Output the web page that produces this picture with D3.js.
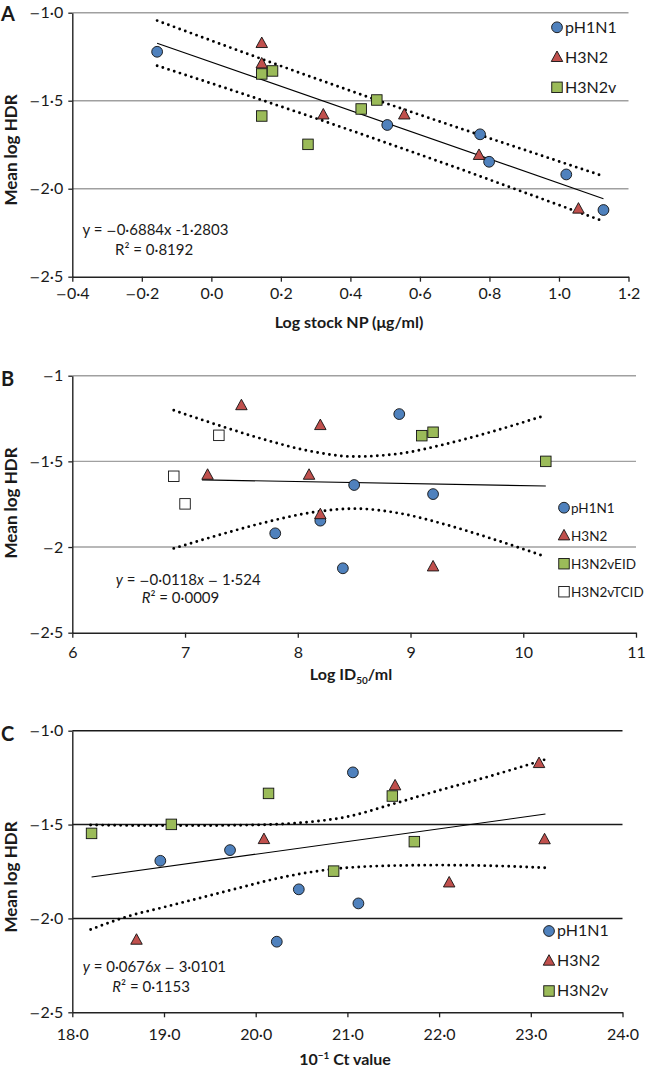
<!DOCTYPE html>
<html><head><meta charset="utf-8">
<script src="https://cdn.jsdelivr.net/npm/d3@7"></script>
<style>
html,body{margin:0;padding:0;background:#fff;}
svg{display:block;}
text{font-family:Lato,'Open Sans',sans-serif;fill:#1a1a1a;}
</style></head><body>
<script>
// ---------- Panel A data ----------
const aPH1N1 = [[-0.156,-1.222],[0.506,-1.638],[0.773,-1.691],[0.799,-1.847],[1.021,-1.919],[1.128,-2.121]];
const aH3N2  = [[0.145,-1.174],[0.145,-1.29],[0.322,-1.58],[0.555,-1.58],[0.77,-1.81],[1.056,-2.115]];
const aH3N2v = [[0.145,-1.348],[0.176,-1.331],[0.145,-1.587],[0.278,-1.748],[0.431,-1.547],[0.476,-1.496]];
const aFit   = [[-0.156,-1.173],[1.128,-2.057]];
const aUpper = [[-0.156,-1.045],[0.1,-1.231],[0.3,-1.374],[0.5,-1.513],[0.7,-1.647],[0.9,-1.779],[1.128,-1.929]];
const aLower = [[-0.156,-1.301],[0.1,-1.467],[0.3,-1.600],[0.5,-1.737],[0.7,-1.877],[0.9,-2.021],[1.128,-2.185]];
const aXTicks = [-0.4,-0.2,0,0.2,0.4,0.6,0.8,1.0,1.2];
const aXLabels = ["−0·4","−0·2","0·0","0·2","0·4","0·6","0·8","1·0","1·2"];
const aYTicks = [-1,-1.5,-2,-2.5];
const aYLabels = ["−1·0","−1·5","−2·0","−2·5"];

// ---------- Panel B data ----------
const bPH1N1 = [[8.9,-1.224],[8.5,-1.638],[9.2,-1.691],[8.2,-1.846],[7.8,-1.92],[8.4,-2.124]];
const bH3N2  = [[7.5,-1.174],[8.2,-1.29],[7.2,-1.58],[8.1,-1.58],[8.2,-1.81],[9.2,-2.115]];
const bEID   = [[9.1,-1.35],[9.2,-1.33],[10.2,-1.5]];
const bTCID  = [[7.3,-1.348],[6.9,-1.587],[7.0,-1.748]];
const bFit   = [[7.15,-1.608],[10.2,-1.644]];
const bUpper = [[6.9,-1.202],[7.3,-1.290],[7.7,-1.372],[8.1,-1.439],[8.5,-1.472],[8.9,-1.455],[9.3,-1.401],[9.7,-1.331],[10.17,-1.237]];
const bLower = [[6.9,-2.008],[7.3,-1.930],[7.7,-1.858],[8.1,-1.801],[8.5,-1.776],[8.9,-1.803],[9.3,-1.867],[9.7,-1.947],[10.17,-2.050]];
const bXTicks = [6,7,8,9,10,11];
const bXLabels = ["6","7","8","9","10","11"];
const bYTicks = [-1,-1.5,-2,-2.5];
const bYLabels = ["−1","−1·5","−2","−2·5"];

// ---------- Panel C data ----------
const cPH1N1 = [[21.06,-1.222],[19.72,-1.636],[18.96,-1.693],[20.47,-1.845],[21.12,-1.92],[20.23,-2.124]];
const cH3N2  = [[23.09,-1.174],[21.52,-1.293],[20.09,-1.579],[23.15,-1.58],[22.11,-1.81],[18.70,-2.115]];
const cH3N2v = [[20.14,-1.334],[21.49,-1.348],[19.08,-1.499],[18.21,-1.547],[21.73,-1.591],[20.85,-1.748]];
const cFit   = [[18.21,-1.779],[23.16,-1.444]];
const cUpper = [[18.2,-1.502],[18.8,-1.505],[19.4,-1.505],[20.0,-1.502],[20.5,-1.49],[21.0,-1.458],[21.5,-1.39],[22.0,-1.318],[22.5,-1.25],[23.16,-1.153]];
const cLower = [[18.2,-2.059],[18.6,-1.99],[19.0,-1.94],[19.4,-1.89],[19.8,-1.84],[20.3,-1.78],[20.85,-1.737],[21.4,-1.72],[22.0,-1.716],[22.6,-1.72],[23.16,-1.73]];
const cXTicks = [18,19,20,21,22,23,24];
const cXLabels = ["18·0","19·0","20·0","21·0","22·0","23·0","24·0"];
const cYTicks = [-1,-1.5,-2,-2.5];
const cYLabels = ["−1·0","−1·5","−2·0","−2·5"];

const COL = {circle:"#4f81bd", tri:"#c0504d", sq:"#9bbb59", white:"#ffffff"};

const svg = d3.select("body").append("svg").attr("width",647).attr("height",1069);

// write a string into a text element, drawing each minus sign with a long dash glyph
function dashText(t, str, italicChars){
  t.text(null);
  const parts = str.split(/(−|[a-zA-Z])/).filter(p=>p!=="");
  parts.forEach(p=>{
    const ts = t.append("tspan").text(p);
    if(p==="−") ts.attr("font-family","'DejaVu Sans',sans-serif").attr("font-size","0.82em");
    else if(italicChars && italicChars.includes(p)) ts.attr("font-style","italic");
  });
}

function marker(g, shape, fill, cx, cy){
  if(shape==="circle"){
    g.append("circle").attr("cx",cx).attr("cy",cy).attr("r",5.4)
      .attr("fill",fill).attr("stroke","#111").attr("stroke-width",0.9);
  } else if(shape==="tri"){
    const w=11.5,h=10.5;
    g.append("path").attr("d",`M${cx},${cy-h*0.6}L${cx+w/2},${cy+h*0.4}L${cx-w/2},${cy+h*0.4}Z`)
      .attr("fill",fill).attr("stroke","#111").attr("stroke-width",0.9).attr("stroke-linejoin","miter");
  } else {
    const s=10.5;
    g.append("rect").attr("x",cx-s/2).attr("y",cy-s/2).attr("width",s).attr("height",s)
      .attr("fill",fill).attr("stroke","#111").attr("stroke-width",0.9);
  }
}

function panel(cfg){
  const g = svg.append("g");
  const x = d3.scaleLinear().domain(cfg.xDomain).range([cfg.left,cfg.right]);
  const y = d3.scaleLinear().domain([-2.5,-1]).range([cfg.bottom,cfg.top]);

  // gridlines
  g.selectAll(".grid").data(cfg.yTicks.filter(v=>v>-2.5)).enter().append("line")
    .attr("x1",cfg.left).attr("x2",cfg.right).attr("y1",d=>y(d)).attr("y2",d=>y(d))
    .attr("stroke",cfg.gridColor).attr("stroke-width",1.4);

  // axes
  const yAxis = d3.axisLeft(y).tickValues(cfg.yTicks).tickSize(4).tickSizeOuter(0).tickPadding(5)
    .tickFormat((d,i)=>cfg.yLabels[i]);
  const ya = g.append("g").attr("transform",`translate(${cfg.left},0)`).call(yAxis);
  const xAxis = d3.axisBottom(x).tickValues(cfg.xTicks).tickSize(5).tickSizeOuter(0).tickPadding(cfg.xPad)
    .tickFormat((d,i)=>cfg.xLabels[i]);
  const xa = g.append("g").attr("transform",`translate(0,${cfg.bottom})`).call(xAxis);
  [ya,xa].forEach(a=>{
    a.select(".domain").attr("stroke","#222").attr("stroke-width",1.4);
    a.selectAll(".tick line").attr("stroke","#222").attr("stroke-width",1.3);
    a.selectAll(".tick text").attr("font-family","Lato,'Open Sans',sans-serif").attr("font-size",16).attr("fill","#1a1a1a")
      .each(function(){ const s=d3.select(this); dashText(s, s.text()); });
  });

  // bands & fit
  const line = d3.line().x(d=>x(d[0])).y(d=>y(d[1])).curve(d3.curveMonotoneX);
  [cfg.upper,cfg.lower].forEach(b=>{
    g.append("path").attr("d",line(b)).attr("fill","none").attr("stroke","#000")
      .attr("stroke-width",2.9).attr("stroke-dasharray","0 6").attr("stroke-linecap","round");
  });
  g.append("path").attr("d",d3.line().x(d=>x(d[0])).y(d=>y(d[1]))(cfg.fit))
    .attr("fill","none").attr("stroke","#000").attr("stroke-width",1.1);

  // markers
  cfg.series.forEach(s=>{
    s.data.forEach(d=>marker(g,s.shape,s.fill,x(d[0]),y(d[1])));
  });

  // legend
  cfg.series.forEach((s,i)=>{
    const ly = cfg.legend.y0 + i*cfg.legend.dy;
    marker(g,s.shape,s.fill,cfg.legend.x,ly);
    g.append("text").attr("x",cfg.legend.x+cfg.legend.gap).attr("y",ly+5.2)
      .attr("font-size",cfg.legend.fs).text(s.name);
  });

  // equation
  cfg.eq.forEach(e=>{
    const t = g.append("text").attr("x",e.x).attr("y",e.y).attr("font-size",15);
    dashText(t, e.text, e.italic);
    if(e.sup){ // R² handled by the text itself
    }
  });

  // titles
  g.append("text").attr("transform",`translate(${cfg.yTitleX},${cfg.yTitleY}) rotate(-90)`)
    .attr("text-anchor","middle").attr("font-weight","bold").attr("font-size",17).text("Mean log HDR");
  const xt = g.append("text").attr("x",cfg.xTitleX).attr("y",cfg.xTitleY).attr("text-anchor","middle")
    .attr("font-weight","bold").attr("font-size",16);
  cfg.xTitle(xt);
  g.append("text").attr("x",1).attr("y",cfg.letterY).attr("font-family","'Liberation Sans',Arial,sans-serif")
    .attr("font-weight","bold").attr("font-size",20).text(cfg.letter);
}

// Panel A
panel({
  letter:"A", letterY:21,
  top:12.7,bottom:276.7,left:72.3,right:628.5,xDomain:[-0.4,1.2],
  xTicks:aXTicks,xLabels:aXLabels,yTicks:aYTicks,yLabels:aYLabels,xPad:6,
  gridColor:"#a0a0a0",
  upper:aUpper,lower:aLower,fit:aFit,
  series:[{name:"pH1N1",shape:"circle",fill:COL.circle,data:aPH1N1},
          {name:"H3N2",shape:"tri",fill:COL.tri,data:aH3N2},
          {name:"H3N2v",shape:"sq",fill:COL.sq,data:aH3N2v}],
  legend:{x:557,y0:27.3,dy:30,gap:8,fs:16},
  eq:[{x:82.6,y:235,text:"y = −0·6884x -1·2803"},
      {x:115,y:255,text:"R² = 0·8192"}],
  yTitleX:17,yTitleY:150,
  xTitleX:349,xTitleY:328,
  xTitle:t=>t.text("Log stock NP (μg/ml)")
});

// Panel B
panel({
  letter:"B", letterY:386,
  top:375.7,bottom:632.7,left:72.3,right:636,xDomain:[6,11],
  xTicks:bXTicks,xLabels:bXLabels,yTicks:bYTicks,yLabels:bYLabels,xPad:9,
  gridColor:"#a0a0a0",
  upper:bUpper,lower:bLower,fit:bFit,
  series:[{name:"pH1N1",shape:"circle",fill:COL.circle,data:bPH1N1},
          {name:"H3N2",shape:"tri",fill:COL.tri,data:bH3N2},
          {name:"H3N2vEID",shape:"sq",fill:COL.sq,data:bEID},
          {name:"H3N2vTCID",shape:"sq",fill:COL.white,data:bTCID}],
  legend:{x:564,y0:507.7,dy:28,gap:7,fs:13.5},
  eq:[{x:115.7,y:585,text:"y = −0·0118x − 1·524",italic:["y","x"]},
      {x:141.7,y:603,text:"R² = 0·0009",italic:["R"]}],
  yTitleX:17,yTitleY:503,
  xTitleX:351,xTitleY:680,
  xTitle:t=>{t.append("tspan").text("Log ID");
    t.append("tspan").attr("font-size",10).attr("dy",4).text("50");
    t.append("tspan").attr("dy",-4).text("/ml");}
});

// Panel C
panel({
  letter:"C", letterY:741,
  top:730.7,bottom:1012.3,left:72.3,right:622.5,xDomain:[18,24],
  xTicks:cXTicks,xLabels:cXLabels,yTicks:cYTicks,yLabels:cYLabels,xPad:11,
  gridColor:"#1a1a1a",
  upper:cUpper,lower:cLower,fit:cFit,
  series:[{name:"pH1N1",shape:"circle",fill:COL.circle,data:cPH1N1},
          {name:"H3N2",shape:"tri",fill:COL.tri,data:cH3N2},
          {name:"H3N2v",shape:"sq",fill:COL.sq,data:cH3N2v}],
  legend:{x:549,y0:931,dy:30,gap:8,fs:16},
  eq:[{x:82.7,y:971.7,text:"y = 0·0676x − 3·0101",italic:["y","x"]},
      {x:112.3,y:991.7,text:"R² = 0·1153",italic:["R"]}],
  yTitleX:17,yTitleY:877,
  xTitleX:345,xTitleY:1065,
  xTitle:t=>{t.append("tspan").text("10");
    t.append("tspan").attr("font-size",10).attr("dy",-6).text("−1");
    t.append("tspan").attr("dy",6).text(" Ct value");}
});
</script>
</body></html>
